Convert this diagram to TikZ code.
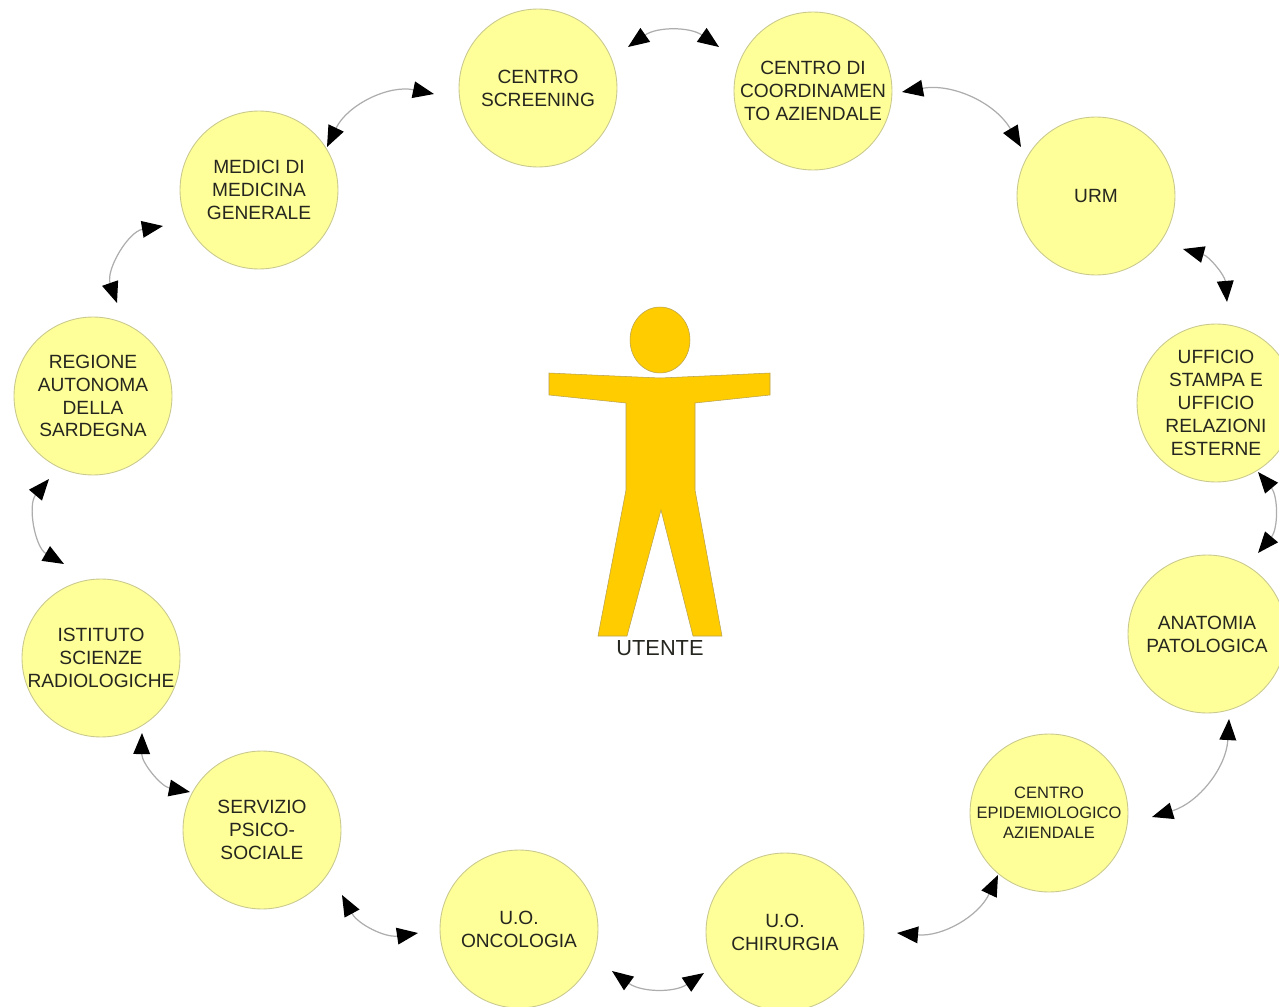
\documentclass[tikz,border=0pt]{standalone}
\usepackage{fontspec}
\setmainfont{Liberation Sans}
\usetikzlibrary{arrows.meta,calc,shapes.geometric}
\definecolor{disc}{HTML}{FFFF99}
\definecolor{discline}{HTML}{C9C98F}
\definecolor{figfill}{HTML}{FFCC00}
\definecolor{figline}{HTML}{B8A050}
\definecolor{inkc}{HTML}{262620}
\tikzset{
  ente/.style={circle,draw=discline,line width=0.5pt,fill=disc,minimum size=3.16cm,inner sep=0pt,
    align=center,text=inkc,font=\fontsize{10.9}{13}\selectfont},
  entesmall/.style={ente,font=\fontsize{9.4}{11.4}\selectfont},
  link/.style={draw=black!32,line width=0.7pt,{Triangle[length=12pt,width=9.5pt,fill=black,color=black]}-{Triangle[length=12pt,width=9.5pt,fill=black,color=black]}},
  figura/.style={fill=figfill,draw=figline,line width=0.3pt}
}
\begin{document}
\begin{tikzpicture}[x=0.02cm,y=-0.02cm]
\useasboundingbox (0,0) rectangle (1279,1007);
% figure
\draw[figura] (549,373) -- (592,375) -- (660,378) -- (727,375) -- (770,373) -- (770,395)
  -- (695,403) -- (695,490) -- (722,636) -- (693,636) -- (661,510) -- (627,636) -- (598,636)
  -- (626,490) -- (626,403) -- (549,395) -- cycle;
\node[ellipse,minimum width=1.2cm,minimum height=1.32cm,figura,inner sep=0pt] (testa) at (660,340) {};
\node[text=inkc,font=\fontsize{12.4}{14}\selectfont] (utente) at (660,648) {UTENTE};
% circles
\node[ente] (sc) at (538,88) {CENTRO\\SCREENING};
\node[ente] (cc) at (813,91) {CENTRO DI\\COORDINAMEN\\TO AZIENDALE};
\node[ente] (urm) at (1096,196) {URM};
\node[ente] (uf) at (1216,403) {UFFICIO\\STAMPA E\\UFFICIO\\RELAZIONI\\ESTERNE};
\node[ente] (ap) at (1207,634) {ANATOMIA\\PATOLOGICA};
\node[entesmall] (ce) at (1049,813) {CENTRO\\EPIDEMIOLOGICO\\AZIENDALE};
\node[ente] (ch) at (785,932) {U.O.\\CHIRURGIA};
\node[ente] (on) at (519,929) {U.O.\\ONCOLOGIA};
\node[ente] (se) at (262,830) {SERVIZIO\\PSICO-\\SOCIALE};
\node[ente] (is) at (101,658) {ISTITUTO\\SCIENZE\\RADIOLOGICHE};
\node[ente] (re) at (93,396) {REGIONE\\AUTONOMA\\DELLA\\SARDEGNA};
\node[ente] (me) at (259,190) {MEDICI DI\\MEDICINA\\GENERALE};
% connectors
\draw[link] ($(sc)+(90,-41)$) to[bend left=35] ($(cc)+(-94,-44)$);
\draw[link] ($(cc)+(89,1)$) to[bend left=35] ($(urm)+(-75,-49)$);
\draw[link] ($(urm)+(87,53)$) to[bend left=35] ($(uf)+(11,-101)$);
\draw[link] ($(uf)+(42,69)$) to[bend left=40] ($(ap)+(51,-81)$);
\draw[link] ($(ap)+(22,85)$) to[bend left=35] ($(ce)+(103,4)$);
\draw[link] ($(ce)+(-51,62)$) to[bend left=35] ($(ch)+(112,1)$);
\draw[link] ($(ch)+(-81,41)$) to[bend left=35] ($(on)+(93,42)$);
\draw[link] ($(on)+(-101,4)$) to[bend left=35] ($(se)+(80,65)$);
\draw[link] ($(se)+(-72,-38)$) to[bend left=40] ($(is)+(41,75)$);
\draw[link] ($(is)+(-37,-94)$) to[bend left=50] ($(re)+(-44,83)$);
\draw[link] ($(re)+(24,-93)$) to[bend left=50] ($(me)+(-96,36)$);
\draw[link] ($(me)+(68,-43)$) to[bend left=38] ($(sc)+(-104,6)$);
\end{tikzpicture}
\end{document}
